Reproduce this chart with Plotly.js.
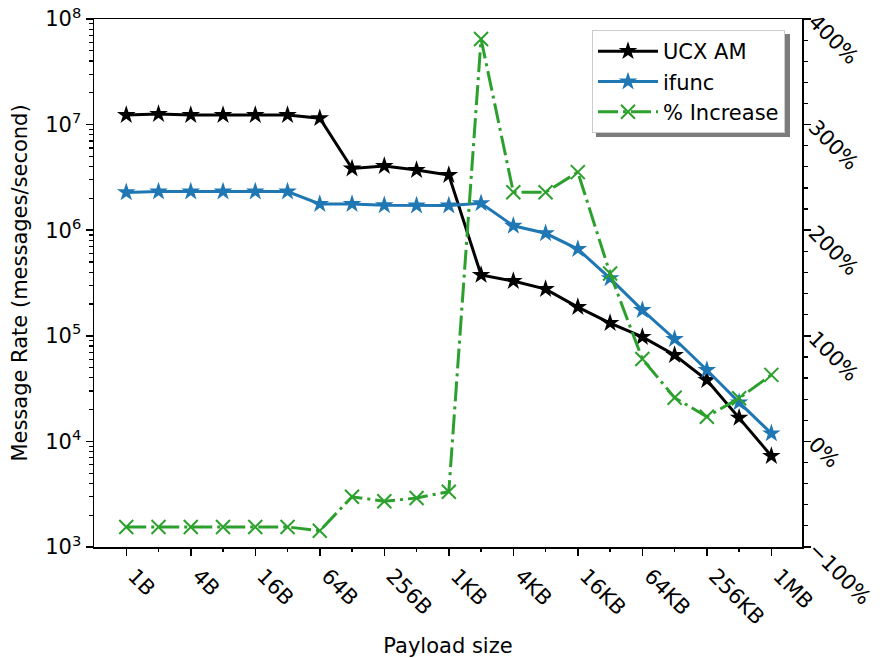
<!DOCTYPE html>
<html>
<head>
<meta charset="utf-8">
<script src="https://cdn.plot.ly/plotly-3.0.1.min.js"></script>
<style>html,body{margin:0;padding:0;background:#fff;}#chart{width:888px;height:658px;}</style>
</head>
<body>
<div id="chart"></div>
<script>
// ---- data ----
const sizes = ['1B','2B','4B','8B','16B','32B','64B','128B','256B','512B','1KB','2KB','4KB','8KB','16KB','32KB','64KB','128KB','256KB','512KB','1MB'];
const ucxAm = [1.23e7,1.26e7,1.23e7,1.23e7,1.23e7,1.23e7,1.15e7,3.84e6,4.05e6,3.72e6,3.33e6,3.77e5,3.30e5,2.77e5,1.87e5,1.32e5,9.75e4,6.58e4,3.81e4,1.67e4,7.28e3];
const ifunc = [2.28e6,2.32e6,2.32e6,2.32e6,2.32e6,2.32e6,1.77e6,1.77e6,1.72e6,1.71e6,1.71e6,1.80e6,1.10e6,9.35e5,6.63e5,3.50e5,1.75e5,9.33e4,4.74e4,2.34e4,1.19e4];
const increase = [-81,-81,-81,-81,-81,-81,-84.6,-52.4,-56.7,-53.6,-47.6,381,236,236,255,159,78,41.4,23.4,40.8,63];
const xTickLabels = ['1B','4B','16B','64B','256B','1KB','4KB','16KB','64KB','256KB','1MB'];
const leftTickVals = [1e3,1e4,1e5,1e6,1e7,1e8];
const leftTickText = ['10<sup>3</sup>','10<sup>4</sup>','10<sup>5</sup>','10<sup>6</sup>','10<sup>7</sup>','10<sup>8</sup>'];
const rightTickVals = [-100,0,100,200,300,400];
const rightTickText = ['\u2212100%','0%','100%','200%','300%','400%'];

// ---- layout helpers ----
const W = 888, H = 658, L = 94, R = 86, T = 19, B = 111;
const pw = W - L - R, ph = H - T - B;
const px = v => (v - L) / pw;
const py = v => (H - B - v) / ph;
const FONT = 'DejaVu Sans, sans-serif';
const FS = 21;

const minorLog = [];
leftTickVals.slice(0, -1).forEach(d => { for (let k = 2; k <= 9; k++) minorLog.push(d * k); });

const traces = [
  {x: sizes, y: ucxAm, name: 'UCX AM', type: 'scatter', mode: 'lines+markers',
   line: {color: '#000000', width: 3}, marker: {symbol: 'star', size: 14, color: '#000000'},
   xaxis: 'x', yaxis: 'y', legendgroup: 'a'},
  {x: sizes, y: ifunc, name: 'ifunc', type: 'scatter', mode: 'lines+markers',
   line: {color: '#1f77b4', width: 3}, marker: {symbol: 'star', size: 14, color: '#1f77b4'},
   xaxis: 'x', yaxis: 'y', legendgroup: 'b'},
  {x: sizes, y: increase, name: '% Increase', type: 'scatter', mode: 'lines+markers',
   line: {color: '#2ca02c', width: 3, dash: '20px,5px,3px,5px'},
   marker: {symbol: 'x-thin-open', size: 14, color: '#2ca02c', line: {color: '#2ca02c', width: 2}},
   xaxis: 'x2', yaxis: 'y2', legendgroup: 'c'}
];

const layout = {
  width: W, height: H,
  margin: {l: L, r: R, t: T, b: B, pad: 0},
  paper_bgcolor: '#ffffff', plot_bgcolor: '#ffffff',
  font: {family: FONT, size: FS, color: '#000000'},
  showlegend: true,
  legend: {
    x: px(592), y: py(30), xanchor: 'left', yanchor: 'top',
    bgcolor: '#ffffff', bordercolor: '#cccccc', borderwidth: 1,
    font: {family: FONT, size: FS, color: '#000000'},
    tracegroupgap: 5, traceorder: 'normal', itemwidth: 60
  },
  xaxis: {
    type: 'category', range: [-1, 20.95],
    tickmode: 'array', tickvals: xTickLabels, ticktext: xTickLabels,
    tickangle: 45, ticks: 'outside', ticklen: 7, tickwidth: 1.5, tickcolor: '#000',
    ticklabelshift: 8,
    showline: true, linecolor: '#000', linewidth: 1.5, mirror: true,
    showgrid: false, zeroline: false,
    tickfont: {family: FONT, size: FS},
    title: {text: 'Payload size', font: {family: FONT, size: FS}, standoff: 16}
  },
  xaxis2: {
    type: 'category', range: [-1, 20.95], overlaying: 'x', anchor: 'y2', side: 'bottom',
    tickmode: 'array', tickvals: sizes, ticks: 'outside', ticklen: 4, tickwidth: 1.2, tickcolor: '#000',
    showticklabels: false, showline: false, showgrid: false, zeroline: false
  },
  yaxis: {
    type: 'log', range: [3, 8],
    tickmode: 'array', tickvals: leftTickVals, ticktext: leftTickText,
    ticks: 'outside', ticklen: 7, tickwidth: 1.5, tickcolor: '#000',
    minor: {tickmode: 'array', tickvals: minorLog, ticks: 'outside', ticklen: 4, tickwidth: 1.2, tickcolor: '#000', showgrid: false},
    showline: true, linecolor: '#000', linewidth: 1.5,
    showgrid: false, zeroline: false,
    tickfont: {family: FONT, size: FS},
    title: {text: 'Message Rate (messages/second)', font: {family: FONT, size: FS}, standoff: 12}
  },
  yaxis2: {
    overlaying: 'y', side: 'right', anchor: 'x', range: [-100, 400],
    tickmode: 'array', tickvals: rightTickVals, ticktext: rightTickText,
    tickangle: 45, ticks: 'outside', ticklen: 7, tickwidth: 1.5, tickcolor: '#000',
    minor: {dtick: 20, ticks: 'outside', ticklen: 4, tickwidth: 1.2, tickcolor: '#000', showgrid: false},
    showline: true, linecolor: '#000', linewidth: 1.5,
    showgrid: false, zeroline: false,
    tickfont: {family: FONT, size: FS}
  },
  shapes: [
    {type: 'rect', xref: 'paper', yref: 'paper', layer: 'above',
     x0: px(596), x1: px(790), y0: py(137), y1: py(34),
     fillcolor: 'rgba(110,110,110,0.9)', line: {width: 0}}
  ]
};

Plotly.newPlot('chart', traces, layout, {staticPlot: true, displayModeBar: false});
</script>
</body>
</html>
